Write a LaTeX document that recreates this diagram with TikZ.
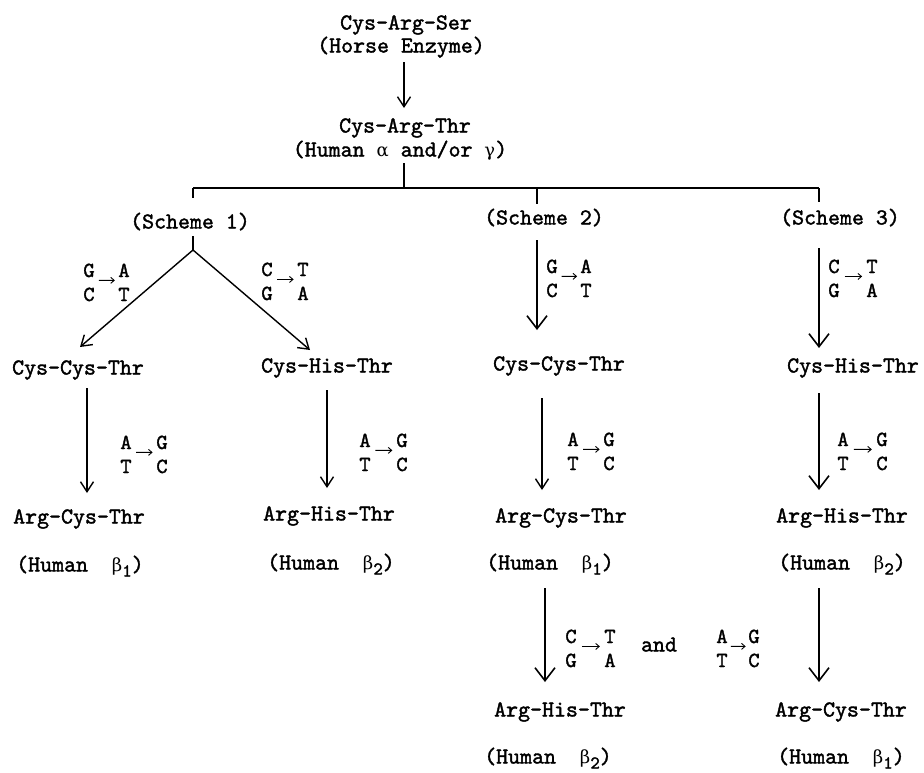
\documentclass[tikz,border=0pt]{standalone}
\usepackage{fontspec}
\setmonofont{lmmono10-regular.otf}[FakeBold=1.6]
\newfontfamily\grk{DejaVu Serif}
\usetikzlibrary{arrows.meta,calc}
\tikzset{
  lbl/.style={inner sep=0pt, anchor=base, yshift=-6.5pt, font=\ttfamily\fontsize{22.8}{24}\selectfont},
  let/.style={inner sep=0pt, anchor=base, yshift=-6pt, font=\ttfamily\fontsize{21.5}{23}\selectfont},
  ln/.style={line width=1.4pt},
  arr/.style={line width=1.4pt, -{Straight Barb[length=10pt,width=13pt,line width=1.4pt]}},
  bigarr/.style={line width=1.4pt, -{Straight Barb[length=13pt,width=20pt,line width=1.6pt]}},
  sarr/.style={line width=0.9pt, -{Straight Barb[length=3.5pt,width=6pt,line width=0.9pt]}},
}
\newcommand\gk[1]{{\grk\fontsize{18}{20}\selectfont #1}}
\newcommand\hb[1]{(Human~~\gk{β}\raisebox{-5pt}{\fontsize{18}{18}\selectfont #1})}
\newcommand\bpair[8]{%
  \node[let] (#1a) at (#2,#3) {#5};
  \node[let] (#1b) at (#2+#4,#3) {#6};
  \node[let] (#1c) at (#2,#3+24) {#7};
  \node[let] (#1d) at (#2+#4,#3+24) {#8};
  \draw[sarr] ($(#1a)!0.28!(#1b)+(0,10)$) -- ($(#1a)!0.74!(#1b)+(0,10)$);
}
\begin{document}
\begin{tikzpicture}[x=1pt,y=-1pt]
\useasboundingbox (0,0) rectangle (924,772);
% columns
\coordinate (xA) at (404,0);
\coordinate (x1) at (193,0);
\coordinate (xL) at (87,0);
\coordinate (xR) at (327,0);
\coordinate (x2) at (537,0);
\coordinate (x2b) at (542,0);
\coordinate (x2c) at (545,0);
\coordinate (x3) at (819,0);
\coordinate (bar) at (0,188);
% texts
\node[lbl] (cas) at (406,23) {Cys-Arg-Ser};
\node[lbl] (horse) at (401,46) {(Horse Enzyme)};
\node[lbl] (cat) at (405,126) {Cys-Arg-Thr};
\node[lbl] (hum) at (400,150) {(Human \gk{α} and/or \gk{γ})};
\node[lbl] (s1) at (190,222) {(Scheme 1)};
\node[lbl] (s2) at (544,218) {(Scheme 2)};
\node[lbl] (s3) at (840,218) {(Scheme 3)};
\node[lbl] (cc1) at (78,368) {Cys-Cys-Thr};
\node[lbl] (ch1) at (327,366) {Cys-His-Thr};
\node[lbl] (ac1) at (79,517) {Arg-Cys-Thr};
\node[lbl] (h1) at (80,565) {\hb{1}};
\node[lbl] (ah1) at (329,514) {Arg-His-Thr};
\node[lbl] (h2) at (331,563) {\hb{2}};
\node[lbl] (cc2) at (559,364) {Cys-Cys-Thr};
\node[lbl] (ac2) at (561,516) {Arg-Cys-Thr};
\node[lbl] (h3) at (550,563) {\hb{1}};
\node[lbl] (ah2) at (560,710) {Arg-His-Thr};
\node[lbl] (h4) at (548,757) {\hb{2}};
\node[lbl] (ch2) at (853,366) {Cys-His-Thr};
\node[lbl] (ah3) at (842,516) {Arg-His-Thr};
\node[lbl] (h5) at (842,563) {\hb{2}};
\node[lbl] (ac3) at (841,710) {Arg-Cys-Thr};
\node[lbl] (h6) at (841,757) {\hb{1}};
\node[lbl] (and) at (659,645) {and};
% base pair labels
\bpair{pa}{89}{271}{35}{G}{A}{C}{T}
\bpair{pb}{267}{270}{36}{C}{T}{G}{A}
\bpair{pc}{126}{443}{36}{A}{G}{T}{C}
\bpair{pd}{365}{441}{37}{A}{G}{T}{C}
\bpair{pe}{552}{267}{34}{G}{A}{C}{T}
\bpair{pf}{573}{440}{36}{A}{G}{T}{C}
\bpair{pg}{571}{637}{39}{C}{T}{G}{A}
\bpair{ph}{722}{637}{32}{A}{G}{T}{C}
\bpair{pi}{834}{267}{38}{C}{T}{G}{A}
\bpair{pj}{843}{440}{39}{A}{G}{T}{C}
% top
\draw[arr] ($(horse.base -| xA)+(0,9.5)$) -- ($(cat.base -| xA)+(0,-24.5)$);
\draw[ln] ($(hum.base -| xA)+(0,6.5)$) -- (xA |- bar);
\draw[ln] (x1 |- bar) -- (x3 |- bar);
\draw[ln] (x1 |- bar) -- ++(0,10);
\draw[ln] (x2 |- bar) -- ++(0,16);
\draw[ln] (x3 |- bar) -- ++(0,14);
% scheme 1
\draw[ln] ($(s1.base -| x1)+(0,7.5)$) -- ($(s1.base -| x1)+(0,21.5)$) coordinate (sp1);
\draw[arr] (sp1) -- ($(cc1.base)+(2,-27.5)$);
\draw[arr] (sp1) -- ($(ch1.base)+(-17,-22.5)$);
\draw[arr] ($(cc1.base -| xL)+(0,13.5)$) -- ($(ac1.base -| xL)+(0,-30.5)$);
\draw[arr] ($(ch1.base -| xR)+(0,17.5)$) -- ($(ah1.base -| xR)+(0,-32.5)$);
% scheme 2
\draw[bigarr] ($(s2.base -| x2)+(0,15.5)$) -- ($(cc2.base -| x2)+(0,-40.5)$);
\draw[arr] ($(cc2.base -| x2b)+(0,27.5)$) -- ($(ac2.base -| x2b)+(0,-32.5)$);
\draw[bigarr] ($(h3.base -| x2c)+(0,18.5)$) -- ($(ah2.base -| x2c)+(0,-34.5)$);
% scheme 3
\draw[bigarr] ($(s3.base -| x3)+(0,23.5)$) -- ($(ch2.base -| x3)+(0,-24.5)$);
\draw[bigarr] ($(ch2.base -| x3)+(0,20.5)$) -- ($(ah3.base -| x3)+(0,-32.5)$);
\draw[bigarr] ($(h5.base -| x3)+(0,18.5)$) -- ($(ac3.base -| x3)+(0,-34.5)$);
\end{tikzpicture}
\end{document}
